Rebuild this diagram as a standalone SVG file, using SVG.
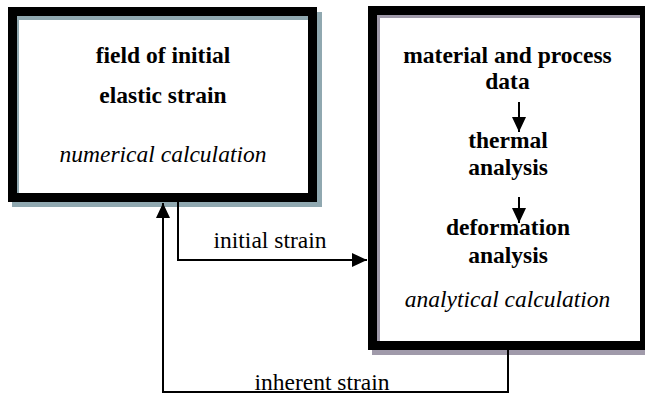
<svg xmlns="http://www.w3.org/2000/svg" width="645" height="396" viewBox="0 0 645 396">
  <style>
    text { font-size: 23.5px; fill: #000; text-anchor: middle; }
    .b { font-weight: bold; }
    .i { font-style: italic; }
    .frame { fill: none; stroke: #000; stroke-width: 9; }
    .inner { fill: #fff; }
    .conn { fill: none; stroke: #000; stroke-width: 2; }
  </style>
  <defs>
    <marker id="arr" markerUnits="userSpaceOnUse" markerWidth="16" markerHeight="15" refX="15" refY="7" orient="auto">
      <path d="M0,0 L15,7 L0,14 z" fill="#000"/>
    </marker>
  </defs>
  <rect width="645" height="396" fill="#fff"/>

  <g id="node-numerical" font-family="Liberation Serif, Times New Roman, DejaVu Serif, serif">
    <rect x="12" y="12" width="310" height="195" fill="#90a8b0"/>
    <rect class="inner" x="19" y="20" width="289" height="173"/>
    <rect class="frame" x="12.5" y="11.5" width="300" height="186"/>
    <text class="b" x="163" y="63">field of initial</text>
    <text class="b" x="163" y="103">elastic strain</text>
    <text class="i" x="163" y="162">numerical calculation</text>
  </g>

  <g id="node-analytical" font-family="Liberation Serif, Times New Roman, DejaVu Serif, serif">
    <rect x="372" y="10" width="282" height="345" fill="#a09aaa"/>
    <rect class="inner" x="380" y="18" width="260" height="323"/>
    <rect class="frame" x="372.5" y="10.5" width="272" height="335"/>
    <text class="b" x="507.5" y="63">material and process</text>
    <text class="b" x="507.5" y="89">data</text>
    <text class="b" x="508" y="148">thermal</text>
    <text class="b" x="508" y="175">analysis</text>
    <text class="b" x="508" y="235">deformation</text>
    <text class="b" x="508" y="263">analysis</text>
    <text class="i" x="507.5" y="307">analytical calculation</text>
  </g>

  <g id="connectors" font-family="Liberation Serif, Times New Roman, DejaVu Serif, serif">
    <path class="conn" d="M519,102 V132" marker-end="url(#arr)"/>
    <path class="conn" d="M519,197 V223" marker-end="url(#arr)"/>
    <path class="conn" d="M178,202 V260 H367" marker-end="url(#arr)"/>
    <path class="conn" d="M508,350 V392 H163 V203" marker-end="url(#arr)"/>
    <text x="270" y="248">initial strain</text>
    <text x="322" y="390">inherent strain</text>
  </g>
</svg>
